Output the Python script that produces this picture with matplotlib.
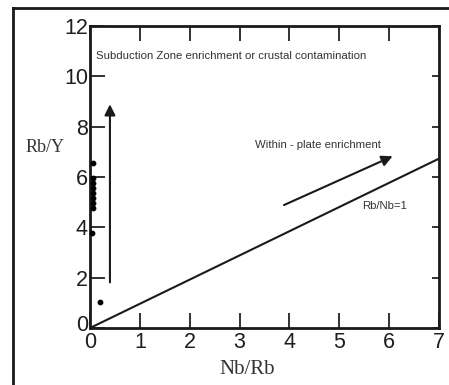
import matplotlib
matplotlib.use("Agg")
import matplotlib.pyplot as plt
import matplotlib.transforms as mtransforms
from matplotlib.lines import Line2D
from matplotlib import font_manager

names = {f.name for f in font_manager.fontManager.ttflist}
sans = ['Liberation Sans Narrow', 'Liberation Sans'] if 'Liberation Sans Narrow' in names else ['Liberation Sans']
serif = ['Liberation Serif']

# data
nb_rb = [0.06, 0.06, 0.06, 0.06, 0.06, 0.06, 0.06, 0.06, 0.04, 0.2]
rb_y = [6.56, 5.95, 5.75, 5.55, 5.35, 5.15, 4.95, 4.76, 3.77, 1.04]
ref_x = [0, 7]
ref_y = [0, 6.73]
xticks = [0, 1, 2, 3, 4, 5, 6, 7]
yticks = [0, 2, 4, 6, 8, 10, 12]

W, H = 449, 385
fig = plt.figure(figsize=(W / 100, H / 100), dpi=100)
fig.patch.set_facecolor('white')
ax = fig.add_axes([90 / W, 1 - 328 / H, (439 - 90) / W, (328 - 26) / H])

ax.plot(ref_x, ref_y, color='#1a1a1a', lw=1.5, solid_capstyle='butt', clip_on=False)
ax.scatter(nb_rb, rb_y, s=10, color='black', zorder=3, clip_on=False)

ax.set_xlim(0, 7)
ax.set_ylim(0, 12)
ax.set_xticks(xticks)
ax.set_yticks(yticks)
ax.set_xticklabels([str(v) for v in xticks], fontfamily=sans, fontsize=15.5, color='#1e1e1e')
ax.set_yticklabels([str(v) for v in yticks], fontfamily=sans, fontsize=15.5, color='#1e1e1e')
ax.tick_params(axis='x', direction='in', length=10.5, width=1.3, top=True, pad=3, color='#222222')
ax.tick_params(axis='y', direction='in', length=10.5, width=1.3, pad=1.5, color='#222222')
for s in ax.spines.values():
    s.set_linewidth(2)
    s.set_color('#1a1a1a')

# nudge the two zero labels apart, as in the reference
ylab0 = ax.get_yticklabels()[0]
ylab0.set_transform(ylab0.get_transform() + mtransforms.ScaledTranslation(0, 5 / 100, fig.dpi_scale_trans))

sec = ax.secondary_yaxis('right')
sec.set_yticks(yticks)
sec.tick_params(direction='in', length=5, width=1.3, labelright=False, color='#222222')
sec.spines['right'].set_visible(False)

# arrows
ax.annotate('', xy=(0.4, 9.0), xytext=(0.4, 1.7),
            arrowprops=dict(arrowstyle='-|>', color='#1a1a1a', lw=1.5, mutation_scale=16))
ax.annotate('', xy=(6.12, 6.87), xytext=(3.84, 4.84),
            arrowprops=dict(arrowstyle='-|>', color='#1a1a1a', lw=1.5, mutation_scale=16))

ax.text(0.13, 10.8, 'Subduction Zone enrichment or crustal contamination',
        fontfamily=sans, fontsize=8.2, color='#333333', va='center', ha='left')
ax.text(3.31, 7.26, 'Within - plate enrichment',
        fontfamily=sans, fontsize=8.2, color='#333333', va='center', ha='left')
ax.text(5.45, 4.84, 'Rb/Nb=1',
        fontfamily=sans, fontsize=8.2, color='#333333', va='center', ha='left')

fig.text(45 / W, 1 - 148 / H, 'Rb/Y', fontfamily=serif, fontsize=13,
         color='#333333', ha='center', va='center')
fig.text(247 / W, 1 - 369 / H, 'Nb/Rb', fontfamily=serif, fontsize=15,
         color='#333333', ha='center', va='center')

# outer frame (left and top edges)
fig.add_artist(Line2D([13 / W, 13 / W], [0, 1 - 8 / H], transform=fig.transFigure,
                      color='#1a1a1a', lw=2))
fig.add_artist(Line2D([13 / W, 1], [1 - 8 / H, 1 - 8 / H], transform=fig.transFigure,
                      color='#1a1a1a', lw=2))

fig.savefig('out.png', dpi=100)
